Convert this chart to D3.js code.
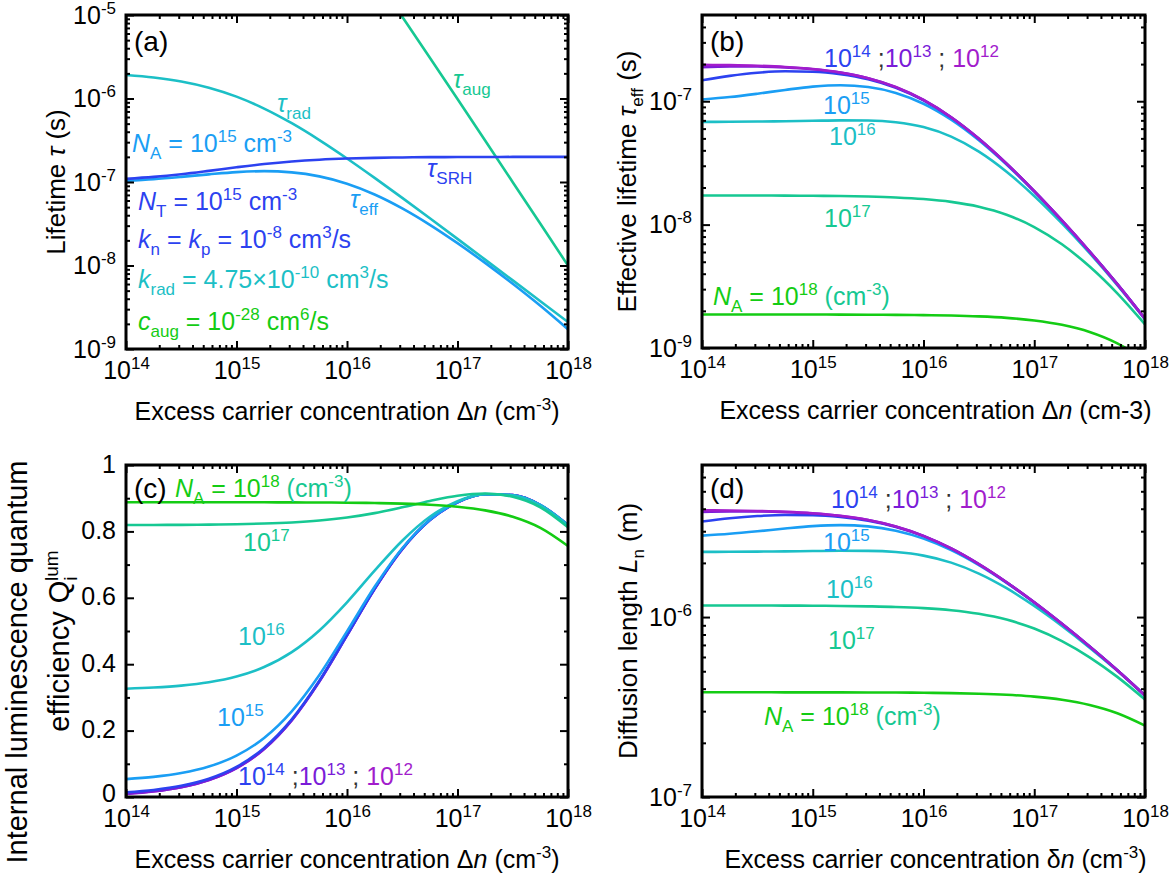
<!DOCTYPE html>
<html>
<head>
<meta charset="utf-8">
<script src="https://cdn.jsdelivr.net/npm/d3@7"></script>
<style>
  body { margin: 0; background: #fff; }
  svg text { font-family: "Liberation Sans", Arial, sans-serif; }
</style>
</head>
<body>
<svg id="fig" width="1176" height="885"></svg>
<script>
/*
  Four panels: lifetimes, effective lifetime, luminescence efficiency
  and diffusion length against excess carrier concentration.
*/

// excess carrier concentration (cm-3), shared by all curves
const dn = [1e14, 1.778e14, 3.162e14, 5.623e14, 1e15, 1.778e15, 3.162e15, 5.623e15, 1e16,
            1.778e16, 3.162e16, 5.623e16, 1e17, 1.778e17, 3.162e17, 5.623e17, 1e18];

// (a) lifetimes for NA = 1e15
const tauRad = [1.914e-6, 1.787e-6, 1.600e-6, 1.348e-6, 1.053e-6, 7.578e-7, 5.058e-7, 3.179e-7, 1.914e-7, 1.121e-7, 6.454e-8, 3.679e-8, 2.084e-8, 1.177e-8, 6.637e-9, 3.737e-9, 2.103e-9];
const tauAug = [1.5e-2, 1.25e-2, 9.3e-3, 6.0e-3, 3.33e-3, 1.58e-3, 6.56e-4, 2.47e-4, 8.66e-5, 2.913e-5, 9.54e-6, 3.08e-6, 9.85e-7, 3.137e-7, 9.954e-8, 3.155e-8, 9.985e-9];
const tauSRH = [1.091e-7, 1.151e-7, 1.240e-7, 1.360e-7, 1.500e-7, 1.640e-7, 1.760e-7, 1.849e-7, 1.909e-7, 1.947e-7, 1.969e-7, 1.983e-7, 1.990e-7, 1.994e-7, 1.997e-7, 1.998e-7, 1.999e-7];

// (b) effective lifetime (s) per doping NA
const tau12 = [1.971e-7, 1.961e-7, 1.939e-7, 1.897e-7, 1.826e-7, 1.711e-7, 1.538e-7, 1.303e-7, 1.025e-7, 7.420e-8, 4.970e-8, 3.122e-8, 1.869e-8, 1.080e-8, 6.053e-9, 3.293e-9, 1.724e-9];
const tau13 = [1.890e-7, 1.914e-7, 1.911e-7, 1.881e-7, 1.817e-7, 1.705e-7, 1.535e-7, 1.302e-7, 1.024e-7, 7.418e-8, 4.969e-8, 3.122e-8, 1.869e-8, 1.080e-8, 6.053e-9, 3.292e-9, 1.724e-9];
const tau14 = [1.479e-7, 1.605e-7, 1.701e-7, 1.748e-7, 1.736e-7, 1.659e-7, 1.509e-7, 1.288e-7, 1.017e-7, 7.386e-8, 4.957e-8, 3.117e-8, 1.867e-8, 1.079e-8, 6.052e-9, 3.292e-9, 1.724e-9];
const tau15 = [1.032e-7, 1.081e-7, 1.151e-7, 1.235e-7, 1.313e-7, 1.348e-7, 1.305e-7, 1.168e-7, 9.547e-8, 7.096e-8, 4.836e-8, 3.072e-8, 1.851e-8, 1.074e-8, 6.034e-9, 3.287e-9, 1.722e-9];
const tau16 = [6.800e-8, 6.818e-8, 6.845e-8, 6.889e-8, 6.945e-8, 6.997e-8, 6.980e-8, 6.761e-8, 6.174e-8, 5.166e-8, 3.905e-8, 2.683e-8, 1.705e-8, 1.023e-8, 5.865e-9, 3.233e-9, 1.706e-9];
const tau17 = [1.723e-8, 1.722e-8, 1.721e-8, 1.718e-8, 1.713e-8, 1.704e-8, 1.688e-8, 1.660e-8, 1.611e-8, 1.528e-8, 1.396e-8, 1.202e-8, 9.554e-9, 6.926e-9, 4.574e-9, 2.774e-9, 1.555e-9];
const tau18 = [1.869e-9, 1.869e-9, 1.868e-9, 1.868e-9, 1.867e-9, 1.865e-9, 1.862e-9, 1.857e-9, 1.848e-9, 1.832e-9, 1.803e-9, 1.755e-9, 1.673e-9, 1.543e-9, 1.350e-9, 1.092e-9, 7.958e-10];

// (c) internal luminescence quantum efficiency
const q12 = [0.0095, 0.0167, 0.0292, 0.0508, 0.0868, 0.1445, 0.2310, 0.3480, 0.4867, 0.6267, 0.7465, 0.8340, 0.8878, 0.9119, 0.9092, 0.8794, 0.8189];
const q13 = [0.0099, 0.0171, 0.0296, 0.0511, 0.0872, 0.1448, 0.2312, 0.3483, 0.4868, 0.6268, 0.7465, 0.8340, 0.8878, 0.9119, 0.9092, 0.8794, 0.8189];
const q14 = [0.0141, 0.0212, 0.0336, 0.0550, 0.0907, 0.1480, 0.2338, 0.3500, 0.4879, 0.6273, 0.7469, 0.8341, 0.8879, 0.9119, 0.9092, 0.8794, 0.8189];
const q15 = [0.0539, 0.0605, 0.0720, 0.0917, 0.1247, 0.1779, 0.2580, 0.3675, 0.4988, 0.6330, 0.7493, 0.8351, 0.8880, 0.9119, 0.9091, 0.8795, 0.8188];
const q16 = [0.3262, 0.3296, 0.3354, 0.3456, 0.3629, 0.3915, 0.4364, 0.5017, 0.5865, 0.6817, 0.7720, 0.8441, 0.8909, 0.9124, 0.9088, 0.8787, 0.8183];
const q17 = [0.8193, 0.8195, 0.8198, 0.8205, 0.8216, 0.8236, 0.8270, 0.8327, 0.8417, 0.8550, 0.8725, 0.8917, 0.9076, 0.9140, 0.9043, 0.8725, 0.8123];
const q18 = [0.8878, 0.8878, 0.8878, 0.8878, 0.8877, 0.8876, 0.8874, 0.8871, 0.8865, 0.8855, 0.8836, 0.8802, 0.8742, 0.8634, 0.8441, 0.8107, 0.7560];

// (d) diffusion length (m)
const L12 = [3.921e-6, 3.911e-6, 3.889e-6, 3.847e-6, 3.774e-6, 3.653e-6, 3.463e-6, 3.188e-6, 2.827e-6, 2.406e-6, 1.969e-6, 1.561e-6, 1.208e-6, 9.177e-7, 6.872e-7, 5.068e-7, 3.667e-7];
const L13 = [3.840e-6, 3.864e-6, 3.861e-6, 3.830e-6, 3.764e-6, 3.647e-6, 3.460e-6, 3.186e-6, 2.826e-6, 2.406e-6, 1.969e-6, 1.561e-6, 1.208e-6, 9.177e-7, 6.872e-7, 5.068e-7, 3.667e-7];
const L14 = [3.397e-6, 3.539e-6, 3.642e-6, 3.692e-6, 3.680e-6, 3.597e-6, 3.430e-6, 3.169e-6, 2.817e-6, 2.400e-6, 1.966e-6, 1.559e-6, 1.207e-6, 9.175e-7, 6.871e-7, 5.067e-7, 3.667e-7];
const L15 = [2.837e-6, 2.904e-6, 2.996e-6, 3.104e-6, 3.200e-6, 3.243e-6, 3.191e-6, 3.018e-6, 2.729e-6, 2.353e-6, 1.942e-6, 1.548e-6, 1.202e-6, 9.152e-7, 6.861e-7, 5.064e-7, 3.665e-7];
const L16 = [2.303e-6, 2.306e-6, 2.311e-6, 2.318e-6, 2.328e-6, 2.336e-6, 2.333e-6, 2.297e-6, 2.195e-6, 2.007e-6, 1.745e-6, 1.447e-6, 1.153e-6, 8.932e-7, 6.764e-7, 5.022e-7, 3.648e-7];
const L17 = [1.159e-6, 1.159e-6, 1.159e-6, 1.158e-6, 1.156e-6, 1.153e-6, 1.147e-6, 1.138e-6, 1.121e-6, 1.092e-6, 1.043e-6, 9.682e-7, 8.633e-7, 7.350e-7, 5.973e-7, 4.651e-7, 3.482e-7];
const L18 = [3.818e-7, 3.818e-7, 3.818e-7, 3.817e-7, 3.816e-7, 3.815e-7, 3.812e-7, 3.806e-7, 3.797e-7, 3.780e-7, 3.751e-7, 3.699e-7, 3.613e-7, 3.470e-7, 3.245e-7, 2.919e-7, 2.492e-7];

// colours per doping level
const C12 = "#a21ccc", C13 = "#7a1cd8", C14 = "#2c42f0", C15 = "#1a9ef4",
      C16 = "#1cbfc6", C17 = "#16c892", C18 = "#14cc14", DARK = "#333";

const svg = d3.select("#fig");
const FS = 25;

// text with italic / sub / sup pieces: parts = [[text, "i sub sup back", colour]]
function rich(t, parts, size) {
  const small = Math.round(size * 0.66);
  let shift = 0;
  parts.forEach(p => {
    const kind = (p[1] || "").split(" ");
    const s = t.append("tspan").text(p[0]);
    let target = 0;
    if (kind.includes("sup")) target = -Math.round(size * 0.38);
    if (kind.includes("sub")) target = Math.round(size * 0.26);
    if (target !== shift) s.attr("dy", target - shift);
    shift = target;
    if (kind.includes("sup") || kind.includes("sub")) s.attr("font-size", small);
    if (kind.includes("i")) s.attr("font-style", "italic");
    if (kind.includes("back")) s.attr("dx", -small * 0.24);
    if (p[2]) s.attr("fill", p[2]);
  });
  return t;
}

function label(g, x, y, parts, opts = {}) {
  const size = opts.size || FS;
  const t = g.append("text")
    .attr("x", x).attr("y", y)
    .attr("font-size", size)
    .attr("fill", opts.fill || "#000")
    .attr("text-anchor", opts.anchor || "start");
  if (opts.rotate) {
    t.attr("x", 0).attr("y", 0).attr("transform", `translate(${x},${y}) rotate(-90)`);
  }
  return rich(t, parts, size);
}

function logTicks(lo, hi) {
  const major = [], minor = [];
  for (let e = Math.floor(Math.log10(lo)); e <= Math.ceil(Math.log10(hi)); e++) {
    for (let m = 1; m < 10; m++) {
      const v = m * Math.pow(10, e);
      if (v < lo * 0.999 || v > hi * 1.001) continue;
      if (m === 1) major.push(v); else if (v < hi * 0.999) minor.push(v);
    }
  }
  return {major, minor};
}

function tickAxis(g, axis, tr, vals, size) {
  return g.append("g").attr("transform", tr)
    .call(axis.tickValues(vals).tickSize(-size).tickFormat(() => ""))
    .call(a => a.select(".domain").remove())
    .call(a => a.selectAll(".tick line").attr("stroke", "#000").attr("stroke-width", 2))
    .call(a => a.selectAll(".tick text").remove());
}

function drawPanel(p) {
  const g = svg.append("g");
  const x = d3.scaleLog().domain([1e14, 1e18]).range([p.left, p.right]);
  const y = (p.ylog ? d3.scaleLog() : d3.scaleLinear()).domain(p.ydom).range([p.bottom, p.top]);

  const clipId = "clip-" + p.id;
  g.append("clipPath").attr("id", clipId).append("rect")
    .attr("x", p.left).attr("y", p.top)
    .attr("width", p.right - p.left).attr("height", p.bottom - p.top);

  const line = d3.line()
    .x((d, i) => x(dn[i]))
    .y(d => y(d))
    .curve(d3.curveMonotoneX);

  g.append("g").attr("clip-path", `url(#${clipId})`)
    .selectAll("path").data(p.series).join("path")
    .attr("d", s => line(s.v))
    .attr("fill", "none")
    .attr("stroke", s => s.c)
    .attr("stroke-width", 2.6)
    .attr("stroke-linejoin", "round");

  // ticks on all four sides, pointing inwards
  const xt = logTicks(1e14, 1e18);
  let yMajor, yMinor;
  if (p.ylog) { const t = logTicks(p.ydom[0], p.ydom[1]); yMajor = t.major; yMinor = t.minor; }
  else { yMajor = [0, 0.2, 0.4, 0.6, 0.8, 1]; yMinor = [0.1, 0.3, 0.5, 0.7, 0.9]; }

  const xb = tickAxis(g, d3.axisBottom(x), `translate(0,${p.bottom})`, xt.major, 8);
  tickAxis(g, d3.axisBottom(x), `translate(0,${p.bottom})`, xt.minor, 4);
  tickAxis(g, d3.axisTop(x), `translate(0,${p.top})`, xt.major, 8);
  tickAxis(g, d3.axisTop(x), `translate(0,${p.top})`, xt.minor, 4);
  const yl = tickAxis(g, d3.axisLeft(y), `translate(${p.left},0)`, yMajor, 8);
  tickAxis(g, d3.axisLeft(y), `translate(${p.left},0)`, yMinor, 4);
  tickAxis(g, d3.axisRight(y), `translate(${p.right},0)`, yMajor, 8);
  tickAxis(g, d3.axisRight(y), `translate(${p.right},0)`, yMinor, 4);

  xb.selectAll(".tick").each(function(d) {
    const t = d3.select(this).append("text")
      .attr("y", 30).attr("font-size", FS).attr("fill", "#000")
      .attr("text-anchor", "middle");
    rich(t, [["10"], [String(Math.round(Math.log10(d))), "sup"]], FS);
  });
  yl.selectAll(".tick").each(function(d) {
    const t = d3.select(this).append("text")
      .attr("x", -10).attr("y", 8).attr("font-size", FS).attr("fill", "#000")
      .attr("text-anchor", "end");
    if (p.ylog) rich(t, [["10"], [String(Math.round(Math.log10(d))), "sup"]], FS);
    else t.attr("y", d === 0 ? 4 : 7).text(String(+d.toFixed(1)));
  });

  g.append("rect")
    .attr("x", p.left).attr("y", p.top)
    .attr("width", p.right - p.left).attr("height", p.bottom - p.top)
    .attr("fill", "none").attr("stroke", "#000").attr("stroke-width", 3);

  const cx = (p.left + p.right) / 2 + (p.xoff || 0);
  label(g, cx, p.bottom + 71, p.xtitle, {anchor: "middle"});
  p.ytitle.forEach(t => label(g, t.x, t.y || (p.top + p.bottom) / 2, t.parts,
    {anchor: "middle", rotate: true, size: t.size || 26}));
  label(g, p.left + 8, p.tagY, [[p.tag]], {size: 28});
  p.notes.forEach(n => label(g, n.x, n.y, n.parts, {size: n.size || 25, fill: n.fill}));
}

const xTitle = [["Excess carrier concentration Δ"], ["n", "i"], [" (cm"], ["-3", "sup"], [")"]];
const dopeRow = [["10", "", C14], ["14", "sup", C14], [" ;", "", DARK], ["10", "", C13], ["13", "sup", C13],
                 [" ; ", "", DARK], ["10", "", C12], ["12", "sup", C12]];
const pow = (e, c) => [["10", "", c], [e, "sup", c]];
const na18 = [["N", "i", C18], ["A", "sub", C18], [" = 10", "", C18], ["18", "sup", C18], [" (cm", "", C17], ["-3", "sup", C17], [")", "", C17]];

drawPanel({
  id: "a", tag: "(a)", tagY: 51,
  left: 126, right: 568, top: 15, bottom: 349, ylog: true, ydom: [1e-9, 1e-5],
  series: [
    {v: tauAug, c: C17}, {v: tauRad, c: C16}, {v: tau15, c: C15}, {v: tauSRH, c: C14}
  ],
  xtitle: xTitle,
  ytitle: [{x: 65, parts: [["Lifetime "], ["τ", "i"], [" (s)"]]}],
  notes: [
    {x: 277, y: 112, parts: [["τ", "i", C16], ["rad", "sub", C16]]},
    {x: 453, y: 88, parts: [["τ", "i", C17], ["aug", "sub", C17]]},
    {x: 427, y: 177, parts: [["τ", "i", C14], ["SRH", "sub", C14]]},
    {x: 350, y: 208, parts: [["τ", "i", C15], ["eff", "sub", C15]]},
    {x: 132, y: 152, parts: [["N", "i", C15], ["A", "sub", C15], [" = 10", "", C15], ["15", "sup", C15], [" cm", "", C15], ["-3", "sup", C15]]},
    {x: 138, y: 210, parts: [["N", "i", C14], ["T", "sub", C14], [" = 10", "", C14], ["15", "sup", C14], [" cm", "", C14], ["-3", "sup", C14]]},
    {x: 138, y: 248, parts: [["k", "i", C14], ["n", "sub", C14], [" = ", "", C14], ["k", "i", C14], ["p", "sub", C14], [" = 10", "", C14], ["-8", "sup", C14], [" cm", "", C14], ["3", "sup", C14], ["/s", "", C14]]},
    {x: 138, y: 288, parts: [["k", "i", C16], ["rad", "sub", C16], [" = 4.75×10", "", C16], ["-10", "sup", C16], [" cm", "", C16], ["3", "sup", C16], ["/s", "", C16]]},
    {x: 138, y: 330, parts: [["c", "i", C18], ["aug", "sub", C18], [" = 10", "", C18], ["-28", "sup", C18], [" cm", "", C18], ["6", "sup", C18], ["/s", "", C18]]}
  ]
});

drawPanel({
  id: "b", tag: "(b)", tagY: 51, xoff: 12,
  left: 702, right: 1145, top: 15, bottom: 348, ylog: true, ydom: [1e-9, 5e-7],
  series: [
    {v: tau18, c: C18}, {v: tau17, c: C17}, {v: tau16, c: C16}, {v: tau15, c: C15},
    {v: tau14, c: C14}, {v: tau13, c: C13}, {v: tau12, c: C12}
  ],
  xtitle: [["Excess carrier concentration Δ"], ["n", "i"], [" (cm-3)"]],
  ytitle: [{x: 636, parts: [["Effective lifetime "], ["τ", "i"], ["eff", "sub"], [" (s)"]]}],
  notes: [
    {x: 824, y: 67, parts: dopeRow},
    {x: 823, y: 114, parts: pow("15", C15)},
    {x: 829, y: 145, parts: pow("16", C16)},
    {x: 824, y: 227, parts: pow("17", C17)},
    {x: 713, y: 305, parts: na18}
  ]
});

drawPanel({
  id: "c", tag: "(c)", tagY: 498,
  left: 126, right: 568, top: 465, bottom: 797, ylog: false, ydom: [0, 1],
  series: [
    {v: q12, c: C12}, {v: q13, c: C13}, {v: q14, c: C14}, {v: q15, c: C15},
    {v: q16, c: C16}, {v: q17, c: C17}, {v: q18, c: C18}
  ],
  xtitle: xTitle,
  ytitle: [
    {x: 27, y: 662, size: 29, parts: [["Internal luminescence quantum"]]},
    {x: 69, y: 641, size: 29, parts: [["efficiency Q"], ["i", "sub"], ["lum", "sup back"]]}
  ],
  notes: [
    {x: 175, y: 497, parts: na18},
    {x: 243, y: 551, parts: pow("17", C17)},
    {x: 238, y: 645, parts: pow("16", C16)},
    {x: 217, y: 726, parts: pow("15", C15)},
    {x: 238, y: 785, parts: dopeRow}
  ]
});

drawPanel({
  id: "d", tag: "(d)", tagY: 498, xoff: 12,
  left: 702, right: 1145, top: 465, bottom: 797, ylog: true, ydom: [1e-7, 7e-6],
  series: [
    {v: L18, c: C18}, {v: L17, c: C17}, {v: L16, c: C16}, {v: L15, c: C15},
    {v: L14, c: C14}, {v: L13, c: C13}, {v: L12, c: C12}
  ],
  xtitle: [["Excess carrier concentration δ"], ["n", "i"], [" (cm"], ["-3", "sup"], [")"]],
  ytitle: [{x: 637, parts: [["Diffusion length "], ["L", "i"], ["n", "sub"], [" (m)"]]}],
  notes: [
    {x: 831, y: 508, parts: dopeRow},
    {x: 823, y: 551, parts: pow("15", C15)},
    {x: 826, y: 598, parts: pow("16", C16)},
    {x: 828, y: 649, parts: pow("17", C17)},
    {x: 764, y: 725, parts: na18}
  ]
});
</script>
</body>
</html>
